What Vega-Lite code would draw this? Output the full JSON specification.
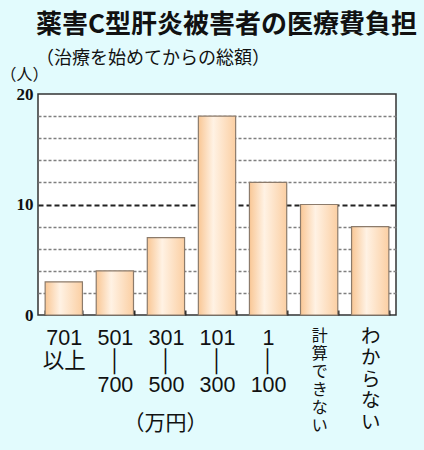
{
  "$schema": "https://vega.github.io/schema/vega-lite/v6.json",
  "autosize": "none",
  "width": 358,
  "height": 221,
  "padding": {"left": 38, "top": 94, "right": 28, "bottom": 135},
  "background": "#e2fbfd",
  "title": {
    "text": "薬害C型肝炎被害者の医療費負担",
    "subtitle": "（治療を始めてからの総額）",
    "anchor": "start",
    "frame": "group",
    "dx": -2,
    "dy": 3,
    "offset": 1,
    "font": "Noto Sans CJK JP",
    "fontSize": 26,
    "fontWeight": "bold",
    "color": "#111",
    "subtitleFont": "Noto Sans CJK JP",
    "subtitleFontSize": 18,
    "subtitleColor": "#111",
    "subtitlePadding": 12
  },
  "data": {
    "values": [
      {"range": "701以上", "count": 3},
      {"range": "501-700", "count": 4},
      {"range": "301-500", "count": 7},
      {"range": "101-300", "count": 18},
      {"range": "1-100", "count": 12},
      {"range": "計算できない", "count": 10},
      {"range": "わからない", "count": 8}
    ]
  },
  "mark": {
    "type": "bar",
    "stroke": "#8c7b6b",
    "strokeWidth": 1.2,
    "color": {
      "gradient": "linear",
      "x1": 0, "x2": 1, "y1": 0, "y2": 0,
      "stops": [
        {"offset": 0, "color": "#f9c795"},
        {"offset": 0.4, "color": "#fff2e4"},
        {"offset": 1, "color": "#fbcfa3"}
      ]
    }
  },
  "encoding": {
    "x": {
      "field": "range",
      "type": "nominal",
      "sort": null,
      "scale": {"paddingInner": 0.27, "paddingOuter": 0.14},
      "axis": {
        "title": "（万円）",
        "titleFont": "Noto Sans CJK JP",
        "titleFontSize": 21,
        "titleFontWeight": "normal",
        "titleColor": "#111",
        "titleX": 127,
        "titleY": 113,
        "titleAlign": "center",
        "titleBaseline": "middle",
        "labelAngle": 0,
        "labelFont": "Liberation Sans, Noto Sans CJK JP",
        "labelFontSize": {
          "condition": [
            {"test": "datum.value === '計算できない'", "value": 16},
            {"test": "datum.value === 'わからない'", "value": 19.5}
          ],
          "value": 21.5
        },
        "labelColor": "#111",
        "labelPadding": 12,
        "labelExpr": "indexof(datum.label, '-') >= 0 ? split(replace(datum.label, '-', '\\n│\\n'), '\\n') : datum.label === '701以上' ? ['701', '以上'] : split(datum.label, '')",
        "labelOverlap": false,
        "offset": -5,
        "tickBand": "extent",
        "tickSize": 5,
        "tickWidth": 2,
        "tickColor": "#222",
        "domain": false,
        "grid": false
      }
    },
    "y": {
      "field": "count",
      "type": "quantitative",
      "scale": {"domain": [0, 20], "nice": false},
      "axis": {
        "title": "（人）",
        "titleAngle": 0,
        "titleFont": "Noto Sans CJK JP",
        "titleFontSize": 16,
        "titleFontWeight": "normal",
        "titleColor": "#111",
        "titleX": -38,
        "titleY": -20,
        "titleAlign": "left",
        "titleBaseline": "middle",
        "values": [0, 2, 4, 6, 8, 10, 12, 14, 16, 18, 20],
        "labelExpr": "datum.value % 10 === 0 ? datum.label : ''",
        "labelFont": "Liberation Serif",
        "labelFontSize": 17,
        "labelFontWeight": "bold",
        "labelColor": "#111",
        "labelPadding": 5,
        "ticks": false,
        "domain": false,
        "grid": true,
        "gridColor": {"condition": {"test": "datum.value === 10", "value": "#222"}, "value": "#7f7f7f"},
        "gridDash": {"condition": {"test": "datum.value === 10", "value": [5, 3]}, "value": [3, 2]},
        "gridWidth": {"condition": {"test": "datum.value === 10", "value": 1.8}, "value": 1.3},
        "gridOpacity": {"condition": {"test": "datum.value === 0 || datum.value === 20", "value": 0}, "value": 1}
      }
    }
  },
  "config": {
    "view": {"fill": "white", "stroke": "#333", "strokeWidth": 1.5}
  }
}
